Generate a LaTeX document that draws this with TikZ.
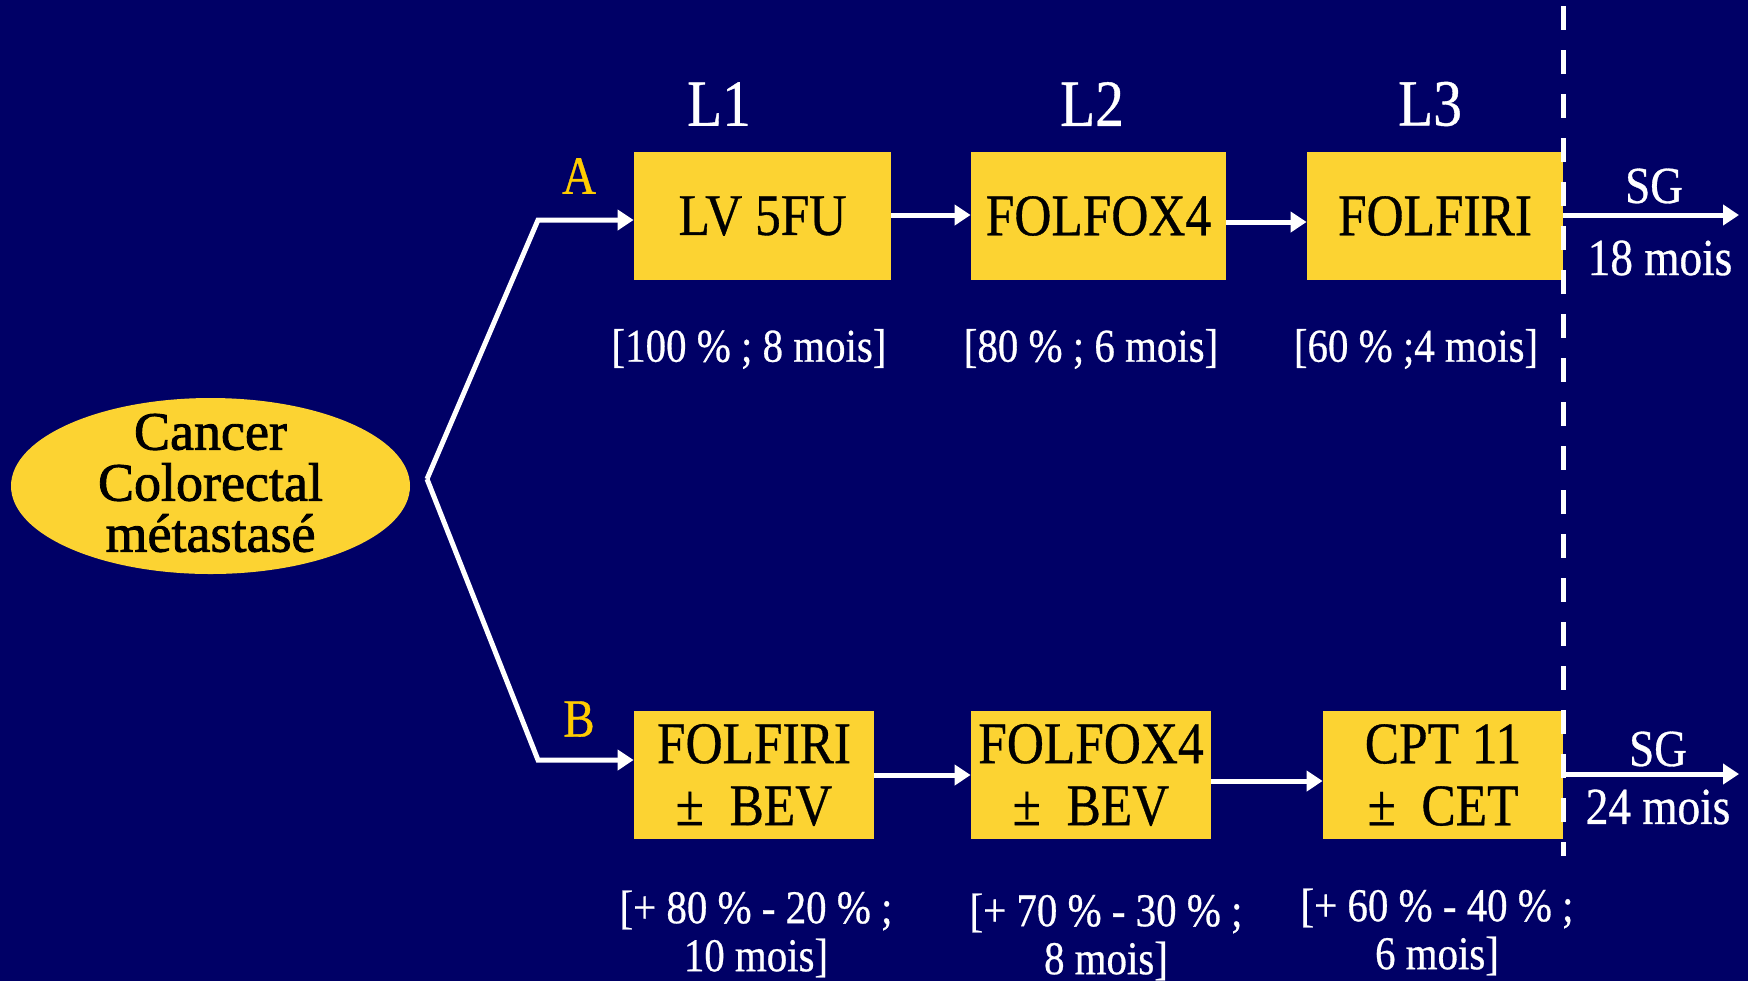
\documentclass[tikz,border=0pt]{standalone}
\usepackage{fontspec}
\setmainfont{Liberation Serif}[FakeStretch=0.87,FakeBold=0.6]
\newfontfamily\ellfont{Liberation Serif}[FakeBold=1.6]
\usetikzlibrary{arrows.meta,shapes.geometric}
\definecolor{navybg}{RGB}{0,0,102}
\definecolor{boxyellow}{RGB}{252,211,50}
\definecolor{armgold}{RGB}{255,204,0}
\tikzset{
  treat/.style={fill=boxyellow, text=black, inner sep=0pt, minimum height=64pt, align=center,
    font=\fontsize{29.5}{31}\selectfont},
  arr/.style={draw=white, line width=2.5pt, -{Triangle[length=8pt,width=10pt]}},
  hdr/.style={text=white, font=\fontsize{33}{34}\selectfont},
  lbl/.style={text=white, align=center, font=\fontsize{23.5}{24}\selectfont},
  arm/.style={text=armgold, font=\fontsize{27}{28}\selectfont},
  sg/.style={text=white, font=\fontsize{26}{27}\selectfont},
}
\begin{document}
\begin{tikzpicture}[x=0.5pt,y=-0.5pt]
\fill[navybg] (0,0) rectangle (1748,981);
\useasboundingbox (0,0) rectangle (1748,981);

% origin ellipse
\node[ellipse, fill=boxyellow, minimum width=199.5pt, minimum height=88pt, inner sep=0pt] (crc) at (210.5,486) {};
\node[align=center, text=black, font=\ellfont\fontsize{27}{25.5}\selectfont] (crctext) at ([yshift=1.5pt]crc.center)
      {Cancer\\Colorectal\\métastasé};

% treatment boxes
\node[treat, minimum width=128.5pt] (a1) at (762.5,216) {LV 5FU};
\node[treat, minimum width=127.5pt] (a2) at (1098.5,216) {FOLFOX4};
\node[treat, minimum width=128pt] (a3) at (1435,216) {FOLFIRI};
\node[treat, minimum width=120pt] (b1) at (754,775) {FOLFIRI\\±\ \ BEV};
\node[treat, minimum width=120pt] (b2) at (1091,775) {FOLFOX4\\±\ \ BEV};
\node[treat, minimum width=120pt] (b3) at (1443,775) {CPT 11\\±\ \ CET};

% headers
\node[hdr] (l1) at (719,104) {L1};
\node[hdr] (l2) at (1092,104) {L2};
\node[hdr] (l3) at (1430,104) {L3};

% arm labels
\node[arm] (armA) at (579,176) {A};
\node[arm] (armB) at (579,719) {B};

% result labels
\node[lbl] (ra1) at (749,349) {[100 \% ; 8 mois]};
\node[lbl] (ra2) at (1091,349) {[80 \% ; 6 mois]};
\node[lbl] (ra3) at (1416,349) {[60 \% ;4 mois]};
\node[lbl] (rb1) at (756,934) {[+ 80 \% - 20 \% ;\\10 mois]};
\node[lbl] (rb2) at (1106,937) {[+ 70 \% - 30 \% ;\\8 mois]};
\node[lbl] (rb3) at (1437,932) {[+ 60 \% - 40 \% ;\\6 mois]};

% branch
\coordinate (v) at (427,479);
\coordinate (ta) at (538,220);
\coordinate (tb) at (538,760);
\draw[arr] (v) -- (ta) -- (ta -| a1.west);
\draw[arr] (v) -- (tb) -- (tb -| b1.west);

% sequence arrows
\draw[arr] ([yshift=0.5pt]a1.east) -- ([yshift=0.5pt]a2.west);
\draw[arr] ([yshift=-3pt]a2.east) -- ([yshift=-3pt]a3.west);
\draw[arr] (b1.east) -- (b2.west);
\draw[arr] ([yshift=-3pt]b2.east) -- ([yshift=-3pt]b3.west);

% overall survival
\coordinate (sgA) at (1739,215);
\coordinate (sgB) at (1739,774);
\draw[arr] ([yshift=0.5pt]a3.east) -- (sgA);
\draw[arr] ([yshift=0.5pt]b3.east) -- (sgB);
\node[sg] (sga) at (1654,186) {SG};
\node[sg] (sgam) at (1660,258) {18 mois};
\node[sg] (sgb) at (1658,749) {SG};
\node[sg] (sgbm) at (1658,807) {24 mois};

% dashed separator
\coordinate (dT) at (1563,6);
\coordinate (dB) at (1563,856);
\draw[white, line width=2.5pt, dash pattern=on 12pt off 10pt] (dT) -- (dB);
\end{tikzpicture}
\end{document}
